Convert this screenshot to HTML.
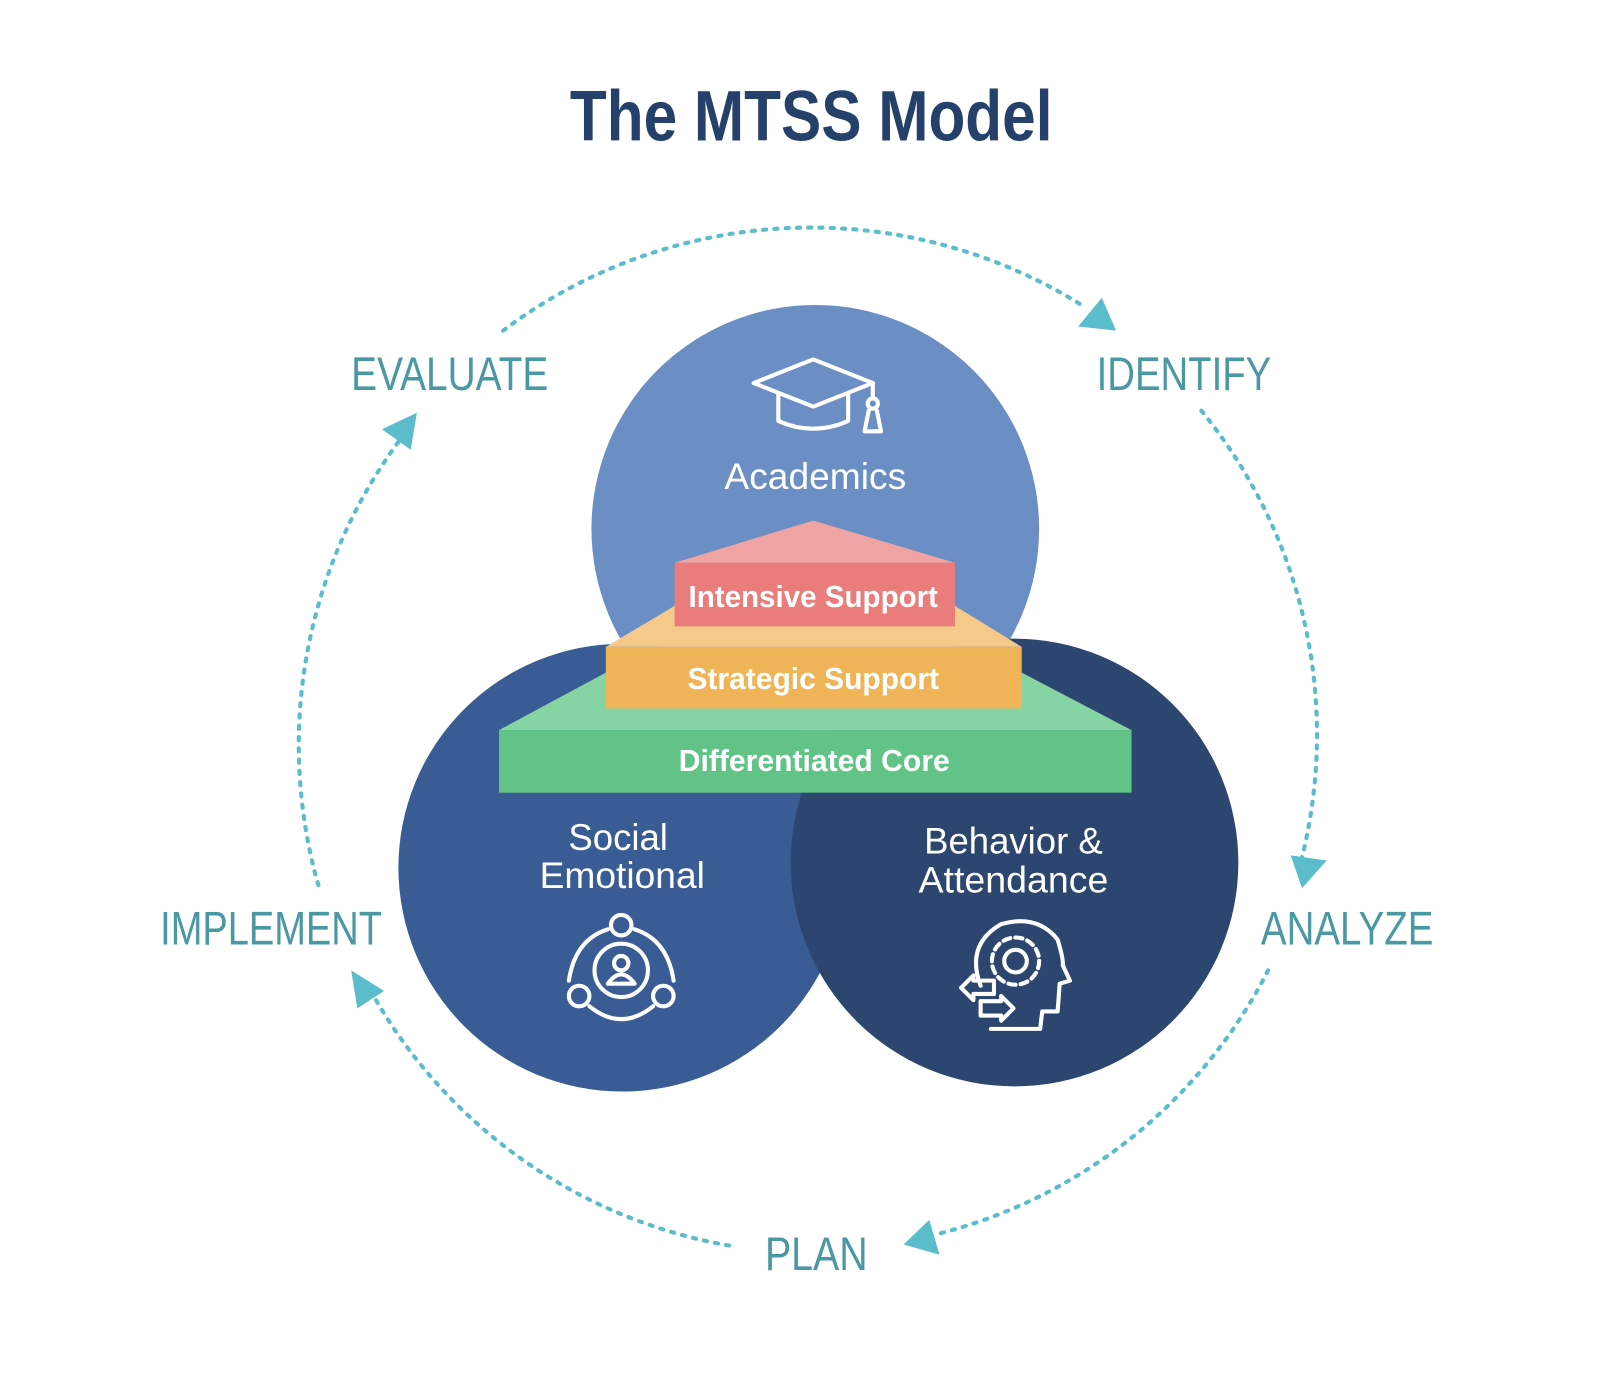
<!DOCTYPE html>
<html><head><meta charset="utf-8"><style>html,body{margin:0;padding:0;background:#fff}svg{display:block}</style></head>
<body>
<svg width="1608" height="1378" viewBox="0 0 1566 1342" preserveAspectRatio="none" xmlns="http://www.w3.org/2000/svg" font-family="'Liberation Sans', sans-serif">
<rect width="1566" height="1342" fill="#fff"/>
<text x="790" y="137" font-size="70" font-weight="bold" fill="#25406a" text-anchor="middle" textLength="470" lengthAdjust="spacingAndGlyphs">The MTSS Model</text>

<g fill="none" stroke="#5bbccb" stroke-width="4" stroke-dasharray="3 8" stroke-linecap="round">
<path d="M490,322 A498,498 0 0 1 1058,300"/>
<path d="M1170,400 A498,498 0 0 1 1268,835"/>
<path d="M1235,945 A498,498 0 0 1 912,1202"/>
<path d="M710,1213 A498,498 0 0 1 365,972"/>
<path d="M310,862 A498,498 0 0 1 392,425"/>
</g>
<g fill="#5bbccb">
<polygon points="1050,318 1073,290 1087,322"/>
<polygon points="1257,833 1292,838 1268,865"/>
<polygon points="880,1212 905,1188 915,1222"/>
<polygon points="342,945 374,965 348,982"/>
<polygon points="406,402 372,418 400,438"/>
</g>
<g fill="#4a98a4" font-size="46" text-anchor="middle">
<text x="438" y="380" textLength="192" lengthAdjust="spacingAndGlyphs">EVALUATE</text>
<text x="1153" y="380" textLength="170" lengthAdjust="spacingAndGlyphs">IDENTIFY</text>
<text x="264" y="920" textLength="216" lengthAdjust="spacingAndGlyphs">IMPLEMENT</text>
<text x="1312" y="920" textLength="168" lengthAdjust="spacingAndGlyphs">ANALYZE</text>
<text x="795" y="1237" textLength="100" lengthAdjust="spacingAndGlyphs">PLAN</text>
</g>

<circle cx="794" cy="515" r="218" fill="#6b8fc5"/>
<circle cx="606" cy="845" r="218" fill="#3a5c94"/>
<circle cx="988" cy="840" r="218" fill="#2c466f"/>

<polygon points="486,711 590,655 995,655 1102,711" fill="#86d3a3"/>
<rect x="486" y="711" width="616" height="61" fill="#62c387"/>
<polygon points="590,630 657,590 930,590 995,630" fill="#f4c98a"/>
<rect x="590" y="630" width="405" height="60" fill="#efb457"/>
<polygon points="657,548 792,507 930,548" fill="#f0a3a3"/>
<rect x="657" y="548" width="273" height="62" fill="#ea7d7b"/>
<g fill="#fff" font-size="30" font-weight="bold" text-anchor="middle">
<text x="792" y="591" textLength="243" lengthAdjust="spacingAndGlyphs">Intensive Support</text>
<text x="792" y="671" textLength="245" lengthAdjust="spacingAndGlyphs">Strategic Support</text>
<text x="793" y="751" textLength="264" lengthAdjust="spacingAndGlyphs">Differentiated Core</text>
</g>
<g fill="#fff" font-size="36" text-anchor="middle">
<text x="794" y="476" textLength="177" lengthAdjust="spacingAndGlyphs">Academics</text>
<text x="602" y="828" textLength="97" lengthAdjust="spacingAndGlyphs">Social</text>
<text x="606" y="865" textLength="161" lengthAdjust="spacingAndGlyphs">Emotional</text>
<text x="987" y="831" textLength="174" lengthAdjust="spacingAndGlyphs">Behavior &amp;</text>
<text x="987" y="869" textLength="185" lengthAdjust="spacingAndGlyphs">Attendance</text>
</g>

<g fill="none" stroke="#fff" stroke-width="4" stroke-linejoin="round" stroke-linecap="round">
<polygon points="734,373 792,350 850,373 792,396"/>
<path d="M758,384 V410 Q792,425 826,410 V384"/>
<path d="M850,373 V388"/>
<circle cx="850" cy="393" r="5"/>
<path d="M846,400 L842,420 H858 L854,400"/>

<circle cx="605" cy="945" r="26"/>
<circle cx="605" cy="938" r="7"/>
<path d="M592,958 Q605,940 618,958 Z"/>
<circle cx="605" cy="901" r="10"/>
<circle cx="564" cy="970" r="10"/>
<circle cx="646" cy="970" r="10"/>
<path d="M592,905 Q560,915 554,955"/>
<path d="M618,905 Q650,915 656,955"/>
<path d="M574,980 Q605,1005 636,980"/>

<path d="M955,960 Q940,920 975,900 Q1010,890 1030,915 Q1036,935 1035,940 L1042,955 L1032,958 L1030,985 L1015,985 L1013,1002 L965,1002"/>
<circle cx="989" cy="936" r="11"/>
<circle cx="989" cy="936" r="23" stroke-dasharray="7 5"/>
<path d="M968,955 H948 V950 L936,962 L948,974 V968 H968 Z"/>
<path d="M955,975 H975 V970 L987,982 L975,994 V989 H955 Z"/>
</g>
</svg>
</body></html>
